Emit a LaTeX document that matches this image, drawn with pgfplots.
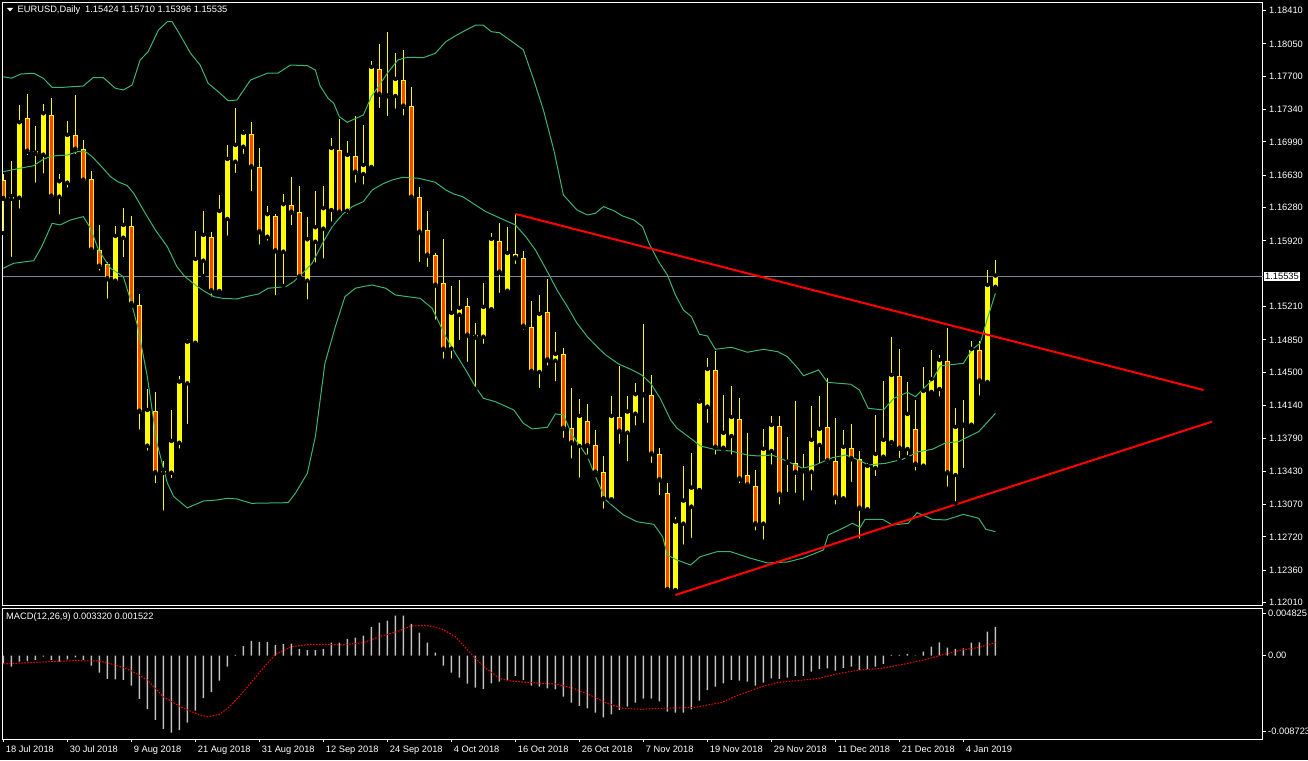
\documentclass[border=0pt]{standalone}
\usepackage{pgfplots}
\pgfplotsset{compat=1.18}
\usepackage{pgfplotstable}
\usepackage{fontspec}
\setmainfont{Liberation Sans}
\definecolor{candleyellow}{RGB}{255,255,0}
\definecolor{bearfill}{RGB}{255,69,0}
\definecolor{bandgreen}{RGB}{60,179,113}
\definecolor{bidgray}{RGB}{119,136,153}
\definecolor{macdgray}{RGB}{192,192,192}
\definecolor{trendred}{RGB}{255,0,0}
\newcommand{\mtfont}{\fontsize{9.3}{10}\selectfont}

\pgfplotstableread{
i o h l c
0 1.16579 1.16644 1.16006 1.16374
1 1.16374 1.16785 1.15725 1.16395
2 1.16388 1.17390 1.16247 1.17192
3 1.17246 1.17509 1.16825 1.16885
4 1.16889 1.17163 1.16528 1.16863
5 1.16853 1.17401 1.16626 1.17289
6 1.17279 1.17466 1.16385 1.16399
7 1.16399 1.16644 1.16183 1.16554
8 1.16550 1.17217 1.16474 1.17055
9 1.17062 1.17498 1.16839 1.16907
10 1.16911 1.17012 1.16558 1.16572
11 1.16587 1.16677 1.15787 1.15819
12 1.15823 1.16093 1.15577 1.15642
13 1.15668 1.15690 1.15274 1.15506
14 1.15491 1.16082 1.15469 1.15963
15 1.15955 1.16273 1.15722 1.16082
16 1.16079 1.16190 1.15217 1.15236
17 1.15225 1.15347 1.13858 1.14074
18 1.13707 1.14320 1.13631 1.14082
19 1.14079 1.14291 1.13279 1.13409
20 1.13412 1.13542 1.12983 1.13433
21 1.13415 1.14093 1.13336 1.13747
22 1.13739 1.14460 1.13653 1.14388
23 1.14381 1.14860 1.13920 1.14820
24 1.14820 1.16031 1.14799 1.15714
25 1.15707 1.16244 1.15541 1.15974
26 1.15963 1.16017 1.15296 1.15376
27 1.15379 1.16417 1.15347 1.16233
28 1.16158 1.16958 1.15955 1.16795
29 1.16777 1.17361 1.16633 1.16947
30 1.16939 1.17120 1.16839 1.17077
31 1.17073 1.17206 1.16435 1.16717
32 1.16717 1.16925 1.15858 1.16014
33 1.15966 1.16298 1.15901 1.16198
34 1.16187 1.16212 1.15311 1.15808
35 1.15804 1.16428 1.15433 1.16306
36 1.16306 1.16612 1.16068 1.16226
37 1.16230 1.16514 1.15512 1.15527
38 1.15491 1.16176 1.15264 1.15927
39 1.15912 1.16457 1.15664 1.16057
40 1.16053 1.16514 1.15707 1.16263
41 1.16255 1.17033 1.16107 1.16914
42 1.16900 1.17242 1.16212 1.16226
43 1.16247 1.17001 1.16193 1.16839
44 1.16839 1.17271 1.16528 1.16658
45 1.16644 1.17171 1.16507 1.16730
46 1.16720 1.17862 1.16698 1.17790
47 1.17776 1.18049 1.17336 1.17501
48 1.17484 1.18179 1.17249 1.17484
49 1.17487 1.17955 1.17328 1.17660
50 1.17657 1.17985 1.17253 1.17372
51 1.17376 1.17581 1.16371 1.16388
52 1.16392 1.16504 1.15671 1.16010
53 1.16035 1.16244 1.15617 1.15761
54 1.15765 1.15787 1.15047 1.15437
55 1.15462 1.15941 1.14626 1.14745
56 1.14756 1.15433 1.14626 1.15131
57 1.15123 1.15498 1.14828 1.15185
58 1.15217 1.15304 1.14590 1.14896
59 1.14904 1.15037 1.14317 1.14874
60 1.14885 1.15466 1.14785 1.15196
61 1.15182 1.16003 1.15152 1.15931
62 1.15917 1.16118 1.15336 1.15577
63 1.15382 1.16071 1.15370 1.15779
64 1.15779 1.16212 1.15649 1.15733
65 1.15733 1.15812 1.14939 1.14993
66 1.14990 1.15271 1.14485 1.14504
67 1.14504 1.15336 1.14309 1.15120
68 1.15149 1.15509 1.14550 1.14630
69 1.14626 1.14936 1.14381 1.14688
70 1.14698 1.14763 1.13769 1.13891
71 1.13898 1.14328 1.13545 1.13733
72 1.13704 1.14209 1.13339 1.14017
73 1.13974 1.14158 1.13588 1.13704
74 1.13711 1.13877 1.13390 1.13415
75 1.13423 1.13596 1.13004 1.13128
76 1.13128 1.14244 1.13102 1.14017
77 1.14017 1.14572 1.13704 1.13858
78 1.13848 1.14244 1.13517 1.14064
79 1.14053 1.14388 1.13902 1.14252
80 1.14252 1.15023 1.13931 1.14252
81 1.14252 1.14471 1.13498 1.13614
82 1.13614 1.13685 1.13149 1.13333
83 1.13196 1.13301 1.12129 1.12147
84 1.12147 1.12940 1.12136 1.12875
85 1.12864 1.13484 1.12615 1.13102
86 1.13048 1.13631 1.12688 1.13242
87 1.13228 1.14209 1.13199 1.14172
88 1.14129 1.14658 1.13931 1.14525
89 1.14525 1.14734 1.13588 1.13685
90 1.13685 1.14258 1.13653 1.13834
91 1.13812 1.14356 1.13588 1.14006
92 1.13996 1.14223 1.13279 1.13344
93 1.13387 1.13848 1.13242 1.13279
94 1.13271 1.13444 1.12767 1.12857
95 1.12864 1.13888 1.12669 1.13661
96 1.13650 1.14028 1.13480 1.13920
97 1.13920 1.14028 1.13048 1.13177
98 1.13523 1.13801 1.13185 1.13523
99 1.13517 1.14190 1.13174 1.13415
100 1.13430 1.13617 1.13091 1.13430
101 1.13426 1.14136 1.13199 1.13758
102 1.13715 1.14248 1.13488 1.13877
103 1.13906 1.14439 1.13488 1.13538
104 1.13538 1.14003 1.13048 1.13145
105 1.13138 1.13877 1.13128 1.13682
106 1.13679 1.13942 1.13293 1.13560
107 1.13563 1.13650 1.12680 1.13026
108 1.13020 1.13517 1.12993 1.13477
109 1.13466 1.14039 1.13358 1.13606
110 1.13588 1.14406 1.13560 1.13758
111 1.13747 1.14879 1.13696 1.14460
112 1.14460 1.14752 1.13552 1.13675
113 1.13671 1.14396 1.13582 1.14039
114 1.13888 1.14201 1.13415 1.13502
115 1.13491 1.14561 1.13480 1.14288
116 1.14288 1.14742 1.14244 1.14417
117 1.14320 1.14684 1.14215 1.14623
118 1.14623 1.14979 1.13242 1.13409
119 1.13390 1.14114 1.13084 1.13898
120 1.13923 1.14201 1.13444 1.13923
121 1.13934 1.14842 1.13920 1.14742
122 1.14742 1.14842 1.14226 1.14403
123 1.14396 1.15606 1.14356 1.15433
124 1.15424 1.15710 1.15396 1.15535
}\ohlc

\pgfplotstableread{
i v
0 -0.00088
1 -0.00126
2 -0.00069
3 -0.00061
4 -0.00049
5 -0.00011
6 -0.00049
7 -0.00069
8 -0.00042
9 -0.00020
10 -0.00049
11 -0.00115
12 -0.00195
13 -0.00267
14 -0.00272
15 -0.00279
16 -0.00344
17 -0.00497
18 -0.00612
19 -0.00738
20 -0.00841
21 -0.00884
22 -0.00853
23 -0.00769
24 -0.00631
25 -0.00486
26 -0.00417
27 -0.00287
28 -0.00126
29 0.00008
30 0.00111
31 0.00169
32 0.00157
33 0.00157
34 0.00123
35 0.00134
36 0.00138
37 0.00077
38 0.00065
39 0.00065
40 0.00077
41 0.00149
42 0.00149
43 0.00192
44 0.00207
45 0.00230
46 0.00329
47 0.00379
48 0.00402
49 0.00459
50 0.00459
51 0.00364
52 0.00264
53 0.00149
54 0.00034
55 -0.00115
56 -0.00195
57 -0.00253
58 -0.00321
59 -0.00367
60 -0.00382
61 -0.00318
62 -0.00298
63 -0.00279
64 -0.00233
65 -0.00279
66 -0.00344
67 -0.00356
68 -0.00375
69 -0.00387
70 -0.00471
71 -0.00540
72 -0.00577
73 -0.00605
74 -0.00654
75 -0.00708
76 -0.00674
77 -0.00623
78 -0.00585
79 -0.00540
80 -0.00494
81 -0.00494
82 -0.00525
83 -0.00643
84 -0.00654
85 -0.00654
86 -0.00616
87 -0.00517
88 -0.00394
89 -0.00356
90 -0.00318
91 -0.00279
92 -0.00287
93 -0.00298
94 -0.00344
95 -0.00310
96 -0.00261
97 -0.00267
98 -0.00253
99 -0.00233
100 -0.00233
101 -0.00184
102 -0.00153
103 -0.00146
104 -0.00172
105 -0.00141
106 -0.00126
107 -0.00164
108 -0.00153
109 -0.00126
110 -0.00095
111 0.00008
112 0.00008
113 0.00020
114 0.00003
115 0.00046
116 0.00103
117 0.00153
118 0.00092
119 0.00077
120 0.00084
121 0.00149
122 0.00153
123 0.00276
124 0.00332
}\macd

\pgfplotstableread{
i s
0 -0.00095
5 -0.00072
9 -0.00057
12 -0.00061
14 -0.00107
16 -0.00172
18 -0.00279
20 -0.00471
22.3 -0.00594
24.6 -0.00681
25.6 -0.00700
27 -0.00674
28.3 -0.00585
30 -0.00413
31.4 -0.00261
32.8 -0.00107
34 0.00015
36 0.00103
38.3 0.00130
40.1 0.00130
42.3 0.00123
45 0.00149
47 0.00218
49.2 0.00276
51 0.00341
52.8 0.00348
54.7 0.00313
56.5 0.00218
58.2 0.00046
60.2 -0.00138
62 -0.00261
63.3 -0.00290
66 -0.00310
69.1 -0.00325
71.3 -0.00375
73.3 -0.00451
75.5 -0.00548
77.5 -0.00605
79.6 -0.00616
81.7 -0.00605
86.4 -0.00594
89.8 -0.00536
91.9 -0.00451
94.5 -0.00364
96.6 -0.00310
99.2 -0.00287
101.9 -0.00261
104.5 -0.00203
107.1 -0.00164
109.8 -0.00146
112.4 -0.00100
115 -0.00049
117.6 0.00015
119.7 0.00065
121.8 0.00092
124 0.00152
}\signal

\begin{document}
\begin{tikzpicture}
\useasboundingbox (0,0) rectangle (1308pt,760pt);
\fill[black] (0,0) rectangle (1308pt,760pt);

% ---------------- main price panel ----------------
\begin{axis}[
  at={(2.7pt,154pt)}, anchor=south west,
  width=1260pt, height=603.7pt, scale only axis,
  xmin=-0.075, xmax=157.4, ymin=1.11974, ymax=1.18500,
  axis line style={white, line width=1pt},
  xtick=\empty,
  ytick={1.1841,1.1805,1.1770,1.1734,1.1699,1.1663,1.1628,1.1592,1.1521,1.1485,1.1450,1.1414,1.1379,1.1343,1.1307,1.1272,1.1236,1.1201},
  ytick pos=right,
  tick align=outside, major tick length=3pt,
  ytick style={white, line width=1pt},
  yticklabel style={white, font=\mtfont,
    /pgf/number format/fixed, /pgf/number format/fixed zerofill,
    /pgf/number format/precision=5, /pgf/number format/assume math mode=true},
  scaled y ticks=false,
  clip=true,
]
% bid line
\addplot[bidgray, line width=1pt, forget plot] coordinates {(-0.075,1.15535) (157.4,1.15535)};
% wicks
\addplot[only marks, mark=none, forget plot,
  error bars/.cd, y dir=plus, y explicit, error mark=none,
  error bar style={draw=candleyellow, line width=1pt}]
  table[x=i, y=l, y error expr={\thisrow{h}-\thisrow{l}}] {\ohlc};
% bodies (outline / bullish fill)
\addplot[only marks, mark=none, forget plot,
  error bars/.cd, y dir=plus, y explicit, error mark=none,
  error bar style={draw=candleyellow, line width=5pt}]
  table[x=i, y expr={min(\thisrow{o},\thisrow{c})}, y error expr={max(abs(\thisrow{c}-\thisrow{o}),0.00011)}] {\ohlc};
% bearish fill
\addplot[only marks, mark=none, forget plot,
  error bars/.cd, y dir=plus, y explicit, error mark=none,
  error bar style={draw=bearfill, line width=3pt}]
  table[x=i, y expr={\thisrow{c}+0.00011}, y error expr={max(\thisrow{o}-\thisrow{c}-0.00022,0)}] {\ohlc};
% Bollinger bands
\addplot[bandgreen, line width=1pt] coordinates {
(0,1.17696) (1,1.17679) (2.2,1.17725) (3.8,1.17733) (5,1.17679) (6.1,1.17581) (7.5,1.17581) (10,1.17595) (11.2,1.17685) (12.5,1.17685) (14,1.17571) (15,1.17552) (16.1,1.17606) (17.1,1.17876) (18.1,1.17966) (19.4,1.18201) (20.5,1.18290) (21.1,1.18290) (22.1,1.18147) (23.4,1.17949) (24.6,1.17822) (25.6,1.17625) (27.1,1.17516) (28.1,1.17436) (29.2,1.17444) (30.9,1.17660) (33,1.17733) (34.3,1.17733) (35.9,1.17822) (38,1.17815) (39,1.17768) (39.6,1.17595) (40.6,1.17462) (41.3,1.17408) (42,1.17263) (43,1.17203) (45,1.17282) (46,1.17480) (48,1.17733) (49.3,1.17876) (50.5,1.17906) (52.5,1.17901) (54,1.17949) (55.3,1.18074) (56.7,1.18147) (58,1.18208) (59,1.18252) (60,1.18252) (61,1.18182) (62,1.18172) (63.6,1.18074) (65,1.17985) (66.3,1.17660) (67.5,1.17336) (68.8,1.16904) (70,1.16417) (71.7,1.16255) (73,1.16201) (74,1.16219) (75,1.16291) (76.3,1.16247) (77.4,1.16190) (78.8,1.16147) (79.9,1.16074) (80.7,1.15895) (81.9,1.15696) (83,1.15552) (84,1.15336) (85,1.15174) (86,1.15102) (87,1.14911) (88,1.14893) (89,1.14749) (91,1.14771) (93,1.14717) (95,1.14749) (96.8,1.14723) (98,1.14669) (99.3,1.14544) (100,1.14464) (101.9,1.14525) (103,1.14392) (105.9,1.14371) (107,1.14309) (108.1,1.14111) (110,1.14093) (111.3,1.14219) (113,1.14284) (114,1.14237) (116.1,1.14417) (117.1,1.14569) (120,1.14598) (121.1,1.14749) (122.1,1.14814) (123,1.15084) (124,1.15354)};
\addplot[bandgreen, line width=1pt] coordinates {
(0,1.16669) (2.1,1.16706) (3.8,1.16734) (5,1.16803) (6.1,1.16839) (8,1.16849) (9.3,1.16885) (10.3,1.16885) (11.1,1.16831) (12.1,1.16741) (13.4,1.16615) (14.3,1.16561) (15.5,1.16518) (16.3,1.16435) (17.5,1.16255) (19,1.16039) (20.5,1.15858) (21.7,1.15642) (22.7,1.15534) (24,1.15444) (25,1.15383) (26.3,1.15318) (27.4,1.15300) (29.2,1.15293) (30.3,1.15318) (31.9,1.15347) (33.1,1.15409) (35.3,1.15426) (36.3,1.15480) (37.4,1.15571) (38.6,1.15679) (39.9,1.15895) (41.1,1.16074) (42.4,1.16208) (43.6,1.16291) (45,1.16345) (46.1,1.16471) (47.4,1.16536) (48.6,1.16579) (49.9,1.16608) (51.9,1.16598) (54,1.16554) (55.3,1.16471) (56.3,1.16428) (57.4,1.16399) (59,1.16309) (60.3,1.16237) (61.5,1.16190) (64,1.16093) (65.3,1.15966) (66.5,1.15823) (68,1.15588) (69.2,1.15390) (70.5,1.15210) (71.7,1.15030) (73,1.14885) (74.2,1.14777) (75.3,1.14687) (76.9,1.14590) (78.4,1.14533) (79.8,1.14471) (80.9,1.14381) (82.1,1.14219) (83.4,1.13985) (84.2,1.13895) (85.9,1.13787) (87.1,1.13704) (89.2,1.13660) (90.9,1.13650) (93,1.13606) (94.3,1.13596) (96.1,1.13606) (97.8,1.13545) (99.9,1.13463) (101.5,1.13498) (103.6,1.13577) (105.3,1.13606) (106.9,1.13552) (108.1,1.13498) (110.3,1.13517) (112.4,1.13560) (114.4,1.13642) (116.1,1.13668) (117.8,1.13739) (119.4,1.13750) (120.2,1.13787) (121.9,1.13858) (124,1.14057)};
\addplot[bandgreen, line width=1pt] coordinates {
(0,1.15625) (1.3,1.15679) (3.8,1.15707) (4.8,1.15858) (6.1,1.16111) (7.1,1.16093) (8.4,1.16147) (10,1.16183) (10.9,1.16057) (11.9,1.15823) (13.4,1.15625) (15,1.15534) (15.9,1.15282) (16.8,1.14993) (18,1.14453) (19.2,1.13736) (20.5,1.13304) (21.3,1.13156) (23,1.13034) (25,1.13109) (26.7,1.13120) (28,1.13138) (29.2,1.13131) (31,1.13084) (35.6,1.13091) (36.5,1.13192) (38,1.13409) (39,1.13804) (40.2,1.14598) (41.5,1.14993) (42.7,1.15318) (44,1.15409) (45.3,1.15433) (46.1,1.15444) (47.8,1.15409) (49,1.15336) (51.1,1.15311) (52.1,1.15300) (53.6,1.15192) (55.3,1.14885) (56.5,1.14706) (57.8,1.14525) (59,1.14345) (60,1.14219) (61.5,1.14183) (63.8,1.14093) (65,1.13949) (66.1,1.13888) (68,1.13906) (69,1.14050) (70,1.14039) (71.1,1.13823) (73,1.13588) (74.2,1.13336) (75.3,1.13120) (77.5,1.12958) (79.2,1.12885) (81.3,1.12857) (82.4,1.12723) (83,1.12525) (84.2,1.12471) (85.9,1.12417) (87.1,1.12507) (89.2,1.12561) (90.9,1.12561) (93.4,1.12490) (95.5,1.12439) (98,1.12450) (100,1.12493) (102.5,1.12580) (103.1,1.12742) (105.3,1.12831) (106.1,1.12868) (107.1,1.12825) (107.7,1.12911) (109.9,1.12911) (111.1,1.12850) (113.1,1.12868) (114.2,1.12983) (116.1,1.12911) (117.8,1.12904) (120,1.12965) (121.9,1.12922) (122.8,1.12803) (124,1.12777)};
% trend lines
\addplot[trendred, line width=2pt] coordinates {(64,1.16212) (150,1.14309)};
\addplot[trendred, line width=2pt] coordinates {(84,1.12093) (151.05,1.13966)};
\end{axis}

% ---------------- MACD panel ----------------
\begin{axis}[
  at={(2.7pt,21pt)}, anchor=south west,
  width=1260pt, height=130pt, scale only axis,
  xmin=-0.075, xmax=157.4, ymin=-0.009563, ymax=0.005361,
  axis line style={white, line width=1pt},
  xtick={0,8,...,120},
  xticklabels={18 Jul 2018,30 Jul 2018,9 Aug 2018,21 Aug 2018,31 Aug 2018,12 Sep 2018,24 Sep 2018,4 Oct 2018,16 Oct 2018,26 Oct 2018,7 Nov 2018,19 Nov 2018,29 Nov 2018,11 Dec 2018,21 Dec 2018,4 Jan 2019},
  xtick pos=bottom,
  ytick={-0.008723,0,0.004825},
  yticklabels={-0.008723,0.00,0.004825},
  ytick pos=right,
  scaled y ticks=false, scaled x ticks=false,
  tick align=outside, major tick length=3pt,
  tick style={white, line width=1pt},
  xticklabel style={white, font=\mtfont, anchor=north west, xshift=-1pt},
  yticklabel style={white, font=\mtfont, xshift=-1pt},
  clip=true,
]
\addplot[ybar, bar width=1.5pt, fill=macdgray, draw=none, forget plot] table[x=i, y=v] {\macd};
\addplot[trendred, line width=1pt, dash pattern=on 1.5pt off 1.5pt] table[x=i, y=s] {\signal};
\end{axis}

% texts
\fill[white] (7pt,752pt) -- (13pt,752pt) -- (10pt,748.5pt) -- cycle;
\node[anchor=west, white, font=\mtfont, inner sep=0pt] at (17.5pt,750pt) {EURUSD,Daily\hspace{5pt}1.15424 1.15710 1.15396 1.15535};
\node[anchor=west, white, font=\mtfont, inner sep=0pt] at (6pt,142.7pt) {MACD(12,26,9) 0.003320 0.001522};
\node[anchor=west, fill=white, text=black, font=\mtfont, inner xsep=1.5pt, inner ysep=1.5pt] at (1263.5pt,483.4pt) {1.15535};
\end{tikzpicture}
\end{document}
